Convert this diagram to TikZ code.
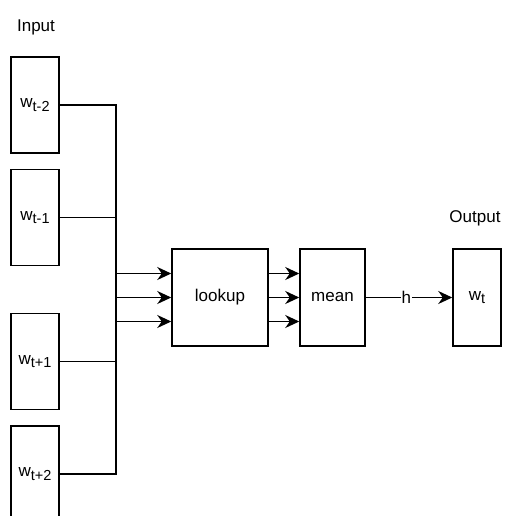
\documentclass[tikz,border=0pt]{standalone}
\usepackage{fontspec}
\setmainfont{Liberation Sans}
\usetikzlibrary{arrows.meta}
\newcommand{\wsub}[1]{w\raisebox{-0.35ex}{\fontsize{14.5}{15}\selectfont #1}}
\begin{document}
\begin{tikzpicture}[x=1pt,y=1pt,
  every node/.style={font=\fontsize{17}{20}\selectfont},
  box/.style={draw, line width=1.5pt, inner sep=0pt},
  inbox/.style={box, minimum width=48pt, minimum height=96pt},
  conn/.style={line width=1.5pt},
  arr/.style={conn, -{Stealth[length=14pt,width=13pt,inset=4.5pt]}}]
\useasboundingbox (0,0) rectangle (507,-516);
\begin{scope}
\clip (0,0) rectangle (507,-516);
\node[inbox] (inA) at (35,-105) {\wsub{t-2}};
\node[inbox] (inB) at (35,-217.5) {\wsub{t-1}};
\node[inbox] (inC) at (35,-361.5) {\wsub{t+1}};
\node[inbox] (inD) at (35,-474) {\wsub{t+2}};
\end{scope}
\node (inlabel) at (36,-27) {Input};
\node (outlabel) at (475,-218) {Output};
\node[box, minimum width=96pt, minimum height=97pt] (lookup) at (220,-297.5) {lookup};
\node[box, minimum width=65pt, minimum height=97pt] (mean) at (332.5,-297.5) {mean};
\node[box, minimum width=48pt, minimum height=97pt] (wt) at (477,-297.5) {\wsub{t}};
\coordinate (busTop) at (116,-105);
\coordinate (busBot) at (116,-474);
\draw[conn] (inA.east) -- (busTop) -- (busBot) -- (inD.east);
\draw[conn] (inB.east) -- (inB.east -| busTop);
\draw[conn] (inC.east) -- (inC.east -| busTop);
\foreach \d in {24,0,-24} {
  \draw[arr] ([yshift=\d pt]lookup.west -| busTop) -- ([yshift=\d pt]lookup.west);
  \draw[arr] ([yshift=\d pt]lookup.east) -- ([yshift=\d pt]mean.west);
}
\draw[arr] (mean.east) -- node[pos=0.47, fill=white, inner sep=0.5pt] (hlab) {h} (wt.west);
\end{tikzpicture}
\end{document}
